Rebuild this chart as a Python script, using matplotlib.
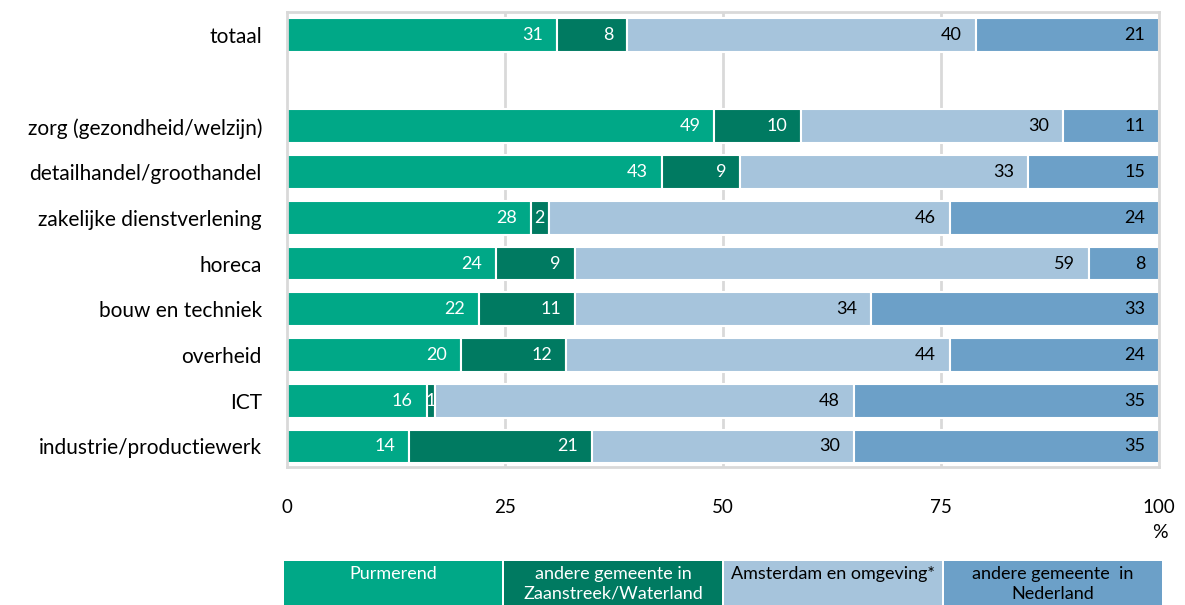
import matplotlib
matplotlib.use("Agg")
import matplotlib.pyplot as plt
from matplotlib.patches import Rectangle
import numpy as np

plt.rcParams['font.family'] = ['Lato', 'DejaVu Sans']

categories = ["totaal", "zorg (gezondheid/welzijn)", "detailhandel/groothandel",
              "zakelijke dienstverlening", "horeca", "bouw en techniek",
              "overheid", "ICT", "industrie/productiewerk"]
positions = [0, 2, 3, 4, 5, 6, 7, 8, 9]

purmerend = [31, 49, 43, 28, 24, 22, 20, 16, 14]
zaanstreek = [8, 10, 9, 2, 9, 11, 12, 1, 21]
amsterdam = [40, 30, 33, 46, 59, 34, 44, 48, 30]
nederland = [21, 11, 15, 24, 8, 33, 24, 35, 35]

series_names = ["Purmerend", "andere gemeente in\nZaanstreek/Waterland",
                "Amsterdam en omgeving*", "andere gemeente  in\nNederland"]
colors = ["#00A887", "#007A61", "#A6C4DC", "#6CA0C8"]
text_colors = ["white", "white", "black", "black"]

xticks = [0, 25, 50, 75, 100]

fig = plt.figure(figsize=(11.85, 6.05), dpi=100)
ax = fig.add_axes([287 / 1185, 1 - 467 / 605, (1159 - 287) / 1185, (467 - 12) / 605])

grid_c = "#D9D9D9"
for x in xticks[1:-1]:
    ax.axvline(x, color=grid_c, lw=2, zorder=0)

left = np.zeros(len(categories))
for vals, col, tc in zip([purmerend, zaanstreek, amsterdam, nederland], colors, text_colors):
    vals = np.array(vals, dtype=float)
    ax.barh(positions, vals, left=left, height=0.74, color=col,
            edgecolor="white", linewidth=1.5, zorder=2)
    for p, l, v in zip(positions, left, vals):
        if v < 4:
            ax.text(l + v / 2, p, f"{int(v)}", ha="center", va="center",
                    color=tc, fontsize=13, zorder=3)
        else:
            ax.text(l + v - 1.6, p, f"{int(v)}", ha="right", va="center",
                    color=tc, fontsize=13, zorder=3)
    left = left + vals

ax.set_xlim(0, 100)
ax.set_ylim(9.45, -0.5)
ax.set_yticks(positions)
ax.set_yticklabels(categories, fontsize=15)
ax.set_xticks(xticks)
ax.set_xticklabels([str(t) for t in xticks], fontsize=13.5)
ax.tick_params(axis="both", length=0)
ax.tick_params(axis="x", pad=23)
ax.tick_params(axis="y", pad=18)
for s in ax.spines.values():
    s.set_color(grid_c)
    s.set_linewidth(2)

fig.text(1160 / 1185, 1 - 532 / 605, "%", ha="center", va="center", fontsize=14)

# legend boxes below the chart
box_left = 283
box_w = 220
box_top = 561
for i, (name, col, tc) in enumerate(zip(series_names, colors, text_colors)):
    x0 = box_left + i * box_w
    fig.patches.append(Rectangle(((x0 + 1) / 1185, 0), (box_w - 2) / 1185,
                                 (605 - box_top) / 605, transform=fig.transFigure,
                                 facecolor=col, edgecolor="none"))
    fig.text((x0 + box_w / 2) / 1185, 1 - 566 / 605, name, ha="center", va="top",
             color=tc, fontsize=13, linespacing=1.3)

fig.savefig("out.png", dpi=100)
